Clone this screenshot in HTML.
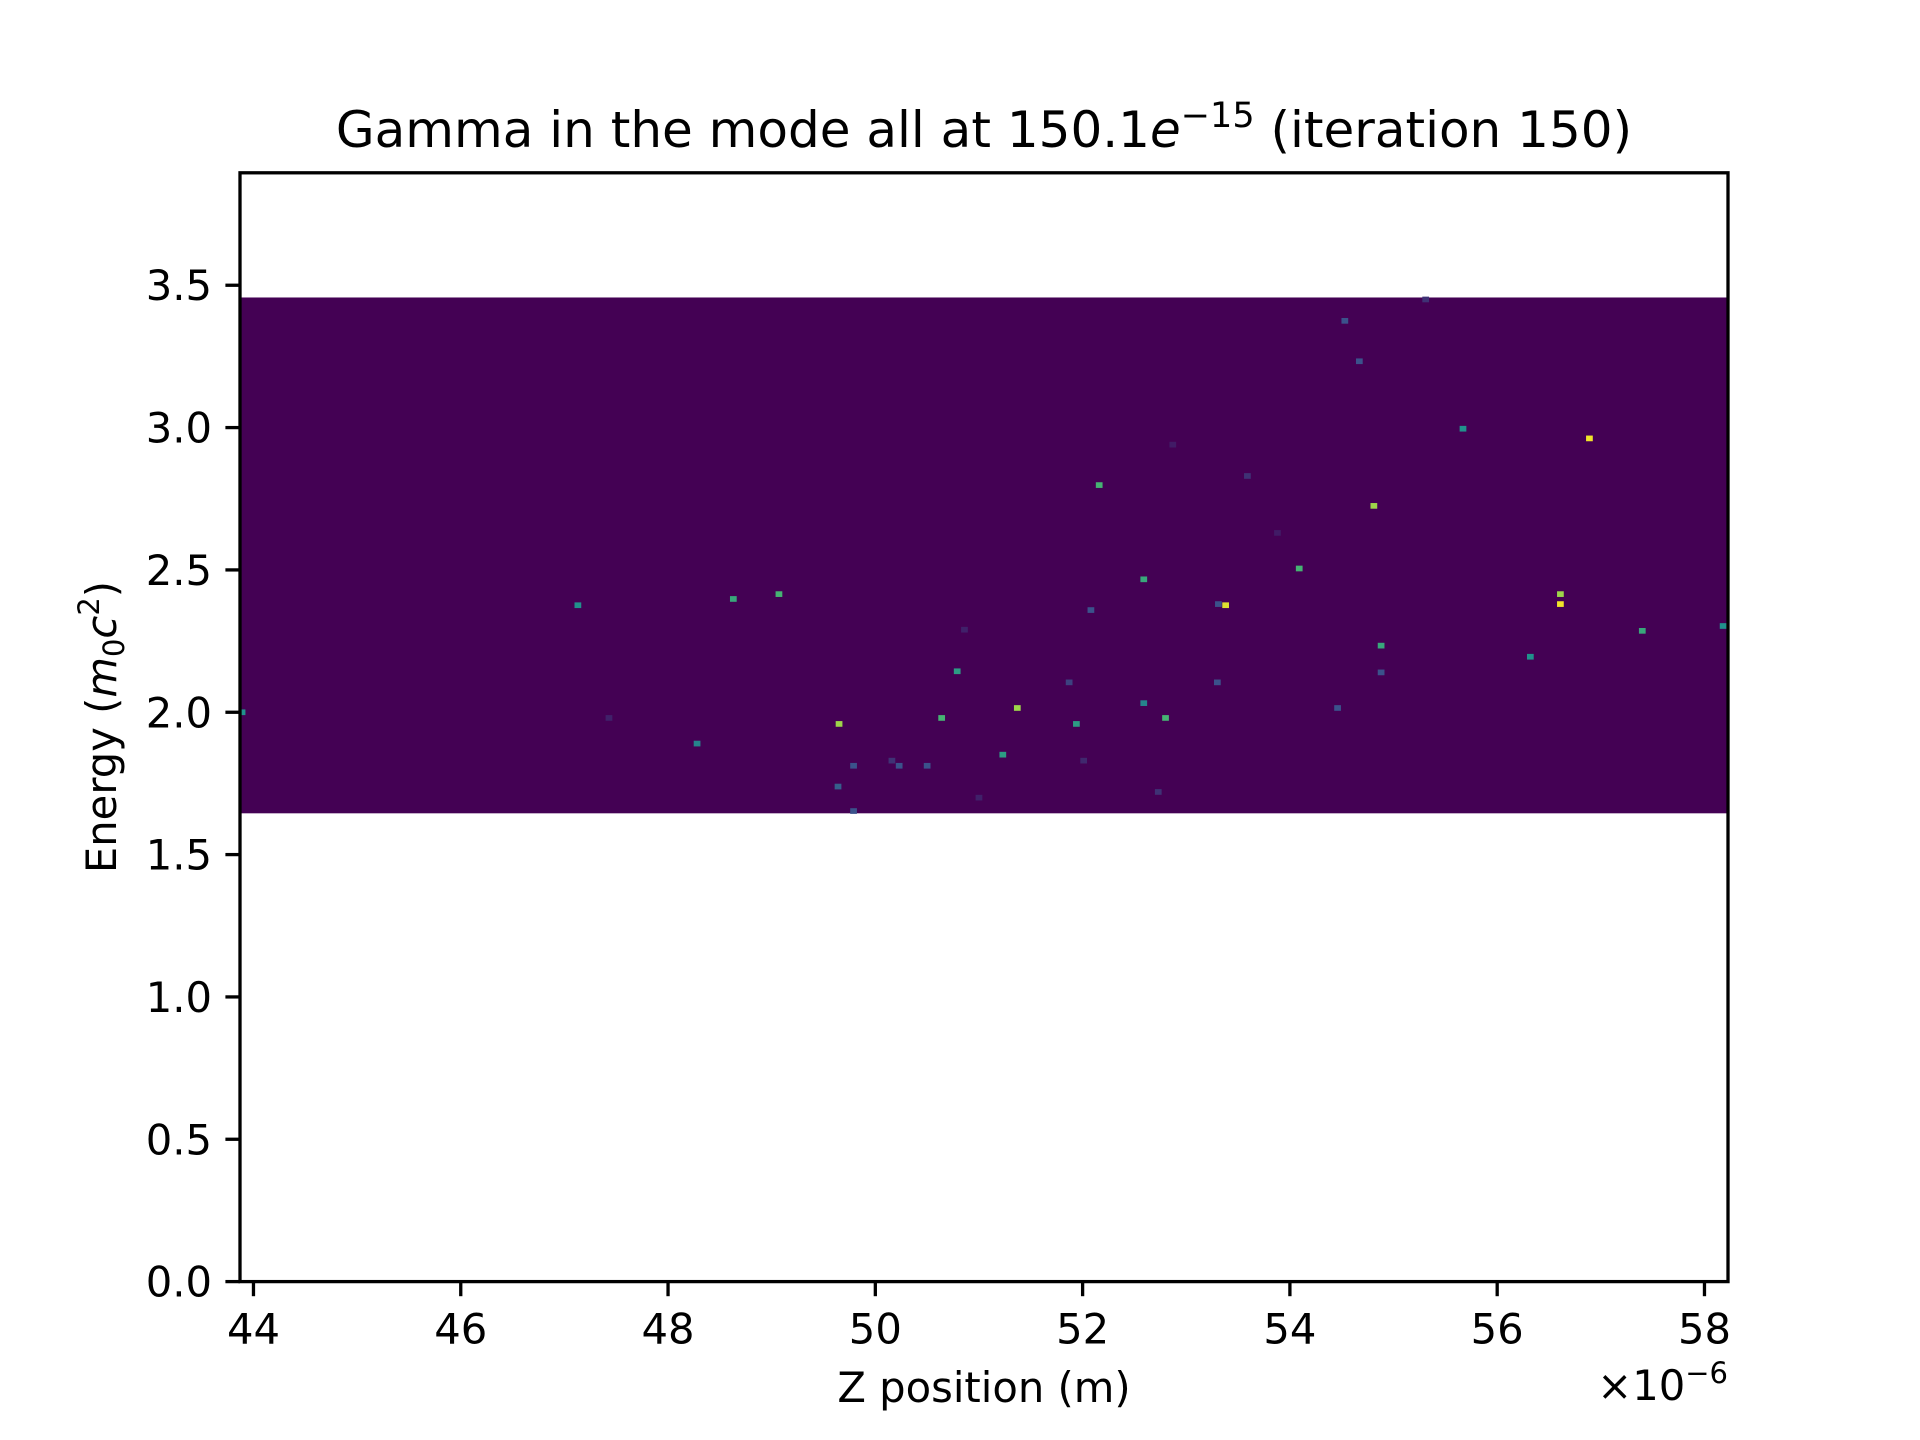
<!DOCTYPE html>
<html><head><meta charset="utf-8"><style>
html,body{margin:0;padding:0;background:#fff;}
svg{display:block;font-family:"DejaVu Sans","Liberation Sans",sans-serif;}
</style></head><body>
<svg id="chart" width="1920" height="1440" viewBox="0 0 1920 1440" xmlns="http://www.w3.org/2000/svg">
<rect x="0" y="0" width="1920" height="1440" fill="#fff"/>
<g id="plot"></g>
<g id="axes"></g>
<text x="984" y="147" font-size="50" text-anchor="middle">Gamma in the mode all at 150.1<tspan font-style="italic">e</tspan><tspan font-size="35" dy="-20">−15</tspan><tspan dy="20"> (iteration 150)</tspan></text>
<text x="984" y="1402" font-size="41.7" text-anchor="middle">Z position (m)</text>
<text x="1728" y="1400" font-size="41.7" text-anchor="end">×10<tspan font-size="29" dy="-17">−6</tspan></text>
<text transform="translate(116,727) rotate(-90)" font-size="41.7" text-anchor="middle">Energy (<tspan font-style="italic">m</tspan><tspan font-size="29" dy="8">0</tspan><tspan font-style="italic" dy="-8">c</tspan><tspan font-size="29" dy="-17">2</tspan><tspan dy="17">)</tspan></text>
</svg>
<script>
const xTicks = [44, 46, 48, 50, 52, 54, 56, 58];
const yTicks = [0.0, 0.5, 1.0, 1.5, 2.0, 2.5, 3.0, 3.5];
const xDomain = [43.87, 58.227];
const yDomain = [0, 3.895];
const bandRange = [1.645, 3.457];
const binW = 0.065, binH = 0.02;
const ptX = [47.13,48.63,49.07,48.28,47.43,43.89,49.65,49.64,49.79,49.79,50.16,50.23,50.50,50.64,50.79,50.86,51.0,51.23,51.37,51.87,51.94,52.01,52.08,52.16,52.59,52.59,52.73,52.80,52.87,53.30,53.31,53.38,53.59,53.88,54.09,54.46,54.53,54.67,54.81,54.88,54.88,55.31,55.67,56.32,56.61,56.61,56.89,57.40,58.18];
const ptY = [2.376,2.398,2.415,1.89,1.98,2.0,1.959,1.739,1.653,1.812,1.83,1.812,1.812,1.98,2.144,2.29,1.70,1.851,2.015,2.105,1.959,1.83,2.359,2.798,2.467,2.032,1.72,1.98,2.94,2.105,2.38,2.376,2.83,2.63,2.505,2.015,3.375,3.233,2.725,2.234,2.14,3.45,2.996,2.195,2.415,2.38,2.962,2.286,2.303];
const ptV = [0.5,0.6,0.65,0.45,0.1,0.5,0.85,0.3,0.25,0.25,0.15,0.25,0.25,0.65,0.55,0.1,0.1,0.55,0.85,0.2,0.55,0.12,0.25,0.65,0.6,0.45,0.15,0.65,0.08,0.25,0.25,0.95,0.15,0.08,0.65,0.25,0.25,0.25,0.85,0.6,0.25,0.15,0.5,0.5,0.85,0.98,0.98,0.6,0.5];

const L=240,R=1728,T=172.8,B=1281.6;
function sx(v){return L+(v-xDomain[0])/(xDomain[1]-xDomain[0])*(R-L);}
function sy(v){return B-(v-yDomain[0])/(yDomain[1]-yDomain[0])*(B-T);}
const vir=[[68,1,84],[59,82,139],[33,145,140],[94,201,98],[253,231,37]];
function viridis(t){t=Math.max(0,Math.min(1,t))*(vir.length-1);const i=Math.min(Math.floor(t),vir.length-2),f=t-i;
 const c=vir[i].map((a,k)=>Math.round(a+(vir[i+1][k]-a)*f));return `rgb(${c[0]},${c[1]},${c[2]})`;}
const NS="http://www.w3.org/2000/svg";
function mk(tag,attrs,parent){const e=document.createElementNS(NS,tag);for(const k in attrs)e.setAttribute(k,attrs[k]);parent.appendChild(e);return e;}
const plot=document.getElementById('plot'), axes=document.getElementById('axes');
const band=mk('rect',{x:L,y:sy(bandRange[1]),width:R-L,height:sy(bandRange[0])-sy(bandRange[1]),fill:viridis(0)},plot);


for(let i=0;i<ptX.length;i++){
 const c=mk('rect',{x:sx(ptX[i]-binW/2),y:sy(ptY[i]+binH/2),width:sx(binW)-sx(0),height:sy(0)-sy(binH),fill:viridis(ptV[i])},plot);
 
 
}
const frame=mk('rect',{x:L,y:T,width:R-L,height:B-T,fill:'none',stroke:'#000','stroke-width':3.3},axes);


xTicks.forEach(v=>{const x=sx(v);
 const t=mk('line',{x1:x,x2:x,y1:B,y2:B+14.6,stroke:'#000','stroke-width':3.3},axes);
 
 
 const lb=mk('text',{x:x,y:B+62,'font-size':41.7,'text-anchor':'middle'},axes);lb.textContent=String(v);
 
 
});
yTicks.forEach(v=>{const y=sy(v);
 const t=mk('line',{x1:L-14.6,x2:L,y1:y,y2:y,stroke:'#000','stroke-width':3.3},axes);
 
 
 const lb=mk('text',{x:L-28,y:y+15,'font-size':41.7,'text-anchor':'end'},axes);lb.textContent=v.toFixed(1);
 
 
});
</script>
</body></html>
